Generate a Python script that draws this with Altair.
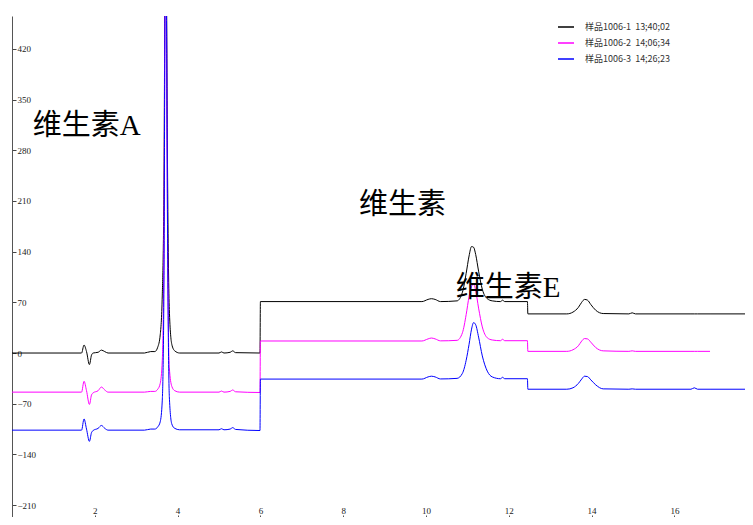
import altair as alt
import pandas as pd

# retention time (min) sampled where each trace changes shape
times = [
    0.0,
    1.68, 1.74, 1.80, 1.87, 1.92, 1.96, 2.08, 2.16, 2.24, 2.32,
    3.20, 3.35, 3.45, 3.52, 3.58, 3.63, 3.67, 3.69, 3.71, 3.73, 3.76, 3.80, 3.86, 3.93, 4.05,
    5.00, 5.06, 5.12, 5.27, 5.33, 5.40,
    5.99, 6.00,
    9.90, 10.05, 10.13, 10.22, 10.35,
    10.75, 10.88, 10.97, 11.04, 11.10, 11.15, 11.20, 11.27, 11.36, 11.48, 11.60,
    11.80, 11.85, 11.90,
    12.45, 12.46,
    13.40, 13.55, 13.68, 13.76, 13.83, 13.90, 13.98, 14.10, 14.28,
    14.90, 14.98, 15.06,
    16.40, 16.48, 16.56,
    16.86,
    18.00,
]

black = [
    0,
    0, 11, 2, -16, -3, 0, 1, 4, 2, 0,
    0, 2, 2, 8, 25, 80, 230, 470, 700, 520, 230, 60, 12, 3, 0,
    0, 1.5, 0, 1, 3, 0.5,
    0, 71,
    71, 74, 75, 74, 71,
    72, 84, 110, 134, 147, 146, 136, 113, 88, 75, 72,
    71, 73, 71,
    71, 54,
    54, 56.5, 63, 70, 74, 73, 67, 59, 54.5,
    54, 55.5, 54,
    54, 54, 54,
    54,
    54,
]

magenta = [
    -54,
    -54, -39, -52, -71, -58, -55, -52, -47, -51, -54,
    -54, -53, -53, -50, -42, -10, 150, 430, 680, 480, 140, -20, -46, -52, -54,
    -54, -52.5, -54, -53, -51, -53.5,
    -54.5, 16.6,
    16.6, 19.5, 20.7, 19.5, 16.8,
    17.5, 28, 53, 78, 92, 95, 86, 62, 36, 21, 18,
    17, 19, 17,
    17, 2.3,
    2.3, 4.5, 10, 16.5, 20, 19.5, 15, 7.5, 3,
    2.3, 3, 2.3,
    2.3, 2.3, 2.3,
    2.3,
    None,
]

blue = [
    -106.5,
    -106.5, -91, -105, -122, -110, -107, -104, -100, -104, -106.5,
    -106.5, -105, -105, -102, -95, -65, 90, 400, 680, 500, 140, -60, -98, -104, -106,
    -106, -104.5, -106, -105, -103, -105.5,
    -107, -36,
    -36, -33, -32, -33, -35.8,
    -35, -28, -10, 12, 33, 42, 39, 22, -4, -25, -33,
    -35.5, -33.5, -35.5,
    -35.5, -50,
    -50, -48, -42, -36, -32, -32.5, -37, -44, -49.5,
    -50, -49.5, -50,
    -50, -48, -50,
    -50,
    -50,
]

series_names = [
    "样品1006-1\u00a0\u00a013;40;02",
    "样品1006-2\u00a0\u00a014;06;34",
    "样品1006-3\u00a0\u00a014;26;23",
]
series_colors = ["#000000", "#ff00ff", "#0000ff"]

ann_text = ["维生素A", "维生素", "维生素E"]
ann_t = [0.50, 8.38, 10.72]
ann_v = [314, 205, 90]

x_ticks = [2, 4, 6, 8, 10, 12, 14, 16]
y_ticks = [-210, -140, -70, 0, 70, 140, 210, 280, 350, 420]

rows = []
for name, vals in zip(series_names, [black, magenta, blue]):
    for t, v in zip(times, vals):
        if v is not None:
            rows.append({"t": t, "v": v, "s": name})
df = pd.DataFrame(rows)
ann = pd.DataFrame({"t": ann_t, "v": ann_v, "label": ann_text})

W, H = 733, 501

xscale = alt.Scale(domain=[0, 17.705], nice=False, zero=False)
yscale = alt.Scale(domain=[-226.4, 465.3], nice=False, zero=False)

lines = alt.Chart(df).mark_line(strokeWidth=1, clip=True, interpolate="monotone").encode(
    x=alt.X("t:Q", scale=xscale,
            axis=alt.Axis(orient="top", offset=-H, values=x_ticks, domain=False, grid=False,
                          tickSize=2, labelPadding=0, labelFontSize=9, labelFont="Liberation Serif",
                          labelColor="#222", tickColor="#555", title=None)),
    y=alt.Y("v:Q", scale=yscale,
            axis=alt.Axis(orient="right", offset=-W, values=y_ticks, grid=False,
                          tickSize=4, labelPadding=1, labelFontSize=9, labelFont="Liberation Serif",
                          labelColor="#222", tickColor="#444", domainColor="#555", title=None)),
    color=alt.Color("s:N", scale=alt.Scale(domain=series_names, range=series_colors),
                    legend=alt.Legend(orient="none", legendX=545, legendY=2, title=None,
                                      symbolType="stroke", symbolSize=256, symbolStrokeWidth=1.5,
                                      labelFontSize=9, labelFont="Noto Sans CJK SC",
                                      labelColor="#333", labelOffset=10, rowPadding=2, padding=0)),
)

texts = alt.Chart(ann).mark_text(align="left", baseline="middle", fontSize=29,
                                 font="Liberation Serif, Noto Sans CJK SC",
                                 fontWeight="normal", color="#000").encode(
    x="t:Q", y="v:Q", text="label:N"
)

chart = alt.layer(lines, texts).properties(
    width=W, height=H,
    padding={"left": 4, "top": 8, "right": 0, "bottom": 0},
    autosize=alt.AutoSizeParams(type="none"),
).configure_view(stroke=None)

chart.save("out.html", embed_options={"renderer": "svg", "actions": False})
